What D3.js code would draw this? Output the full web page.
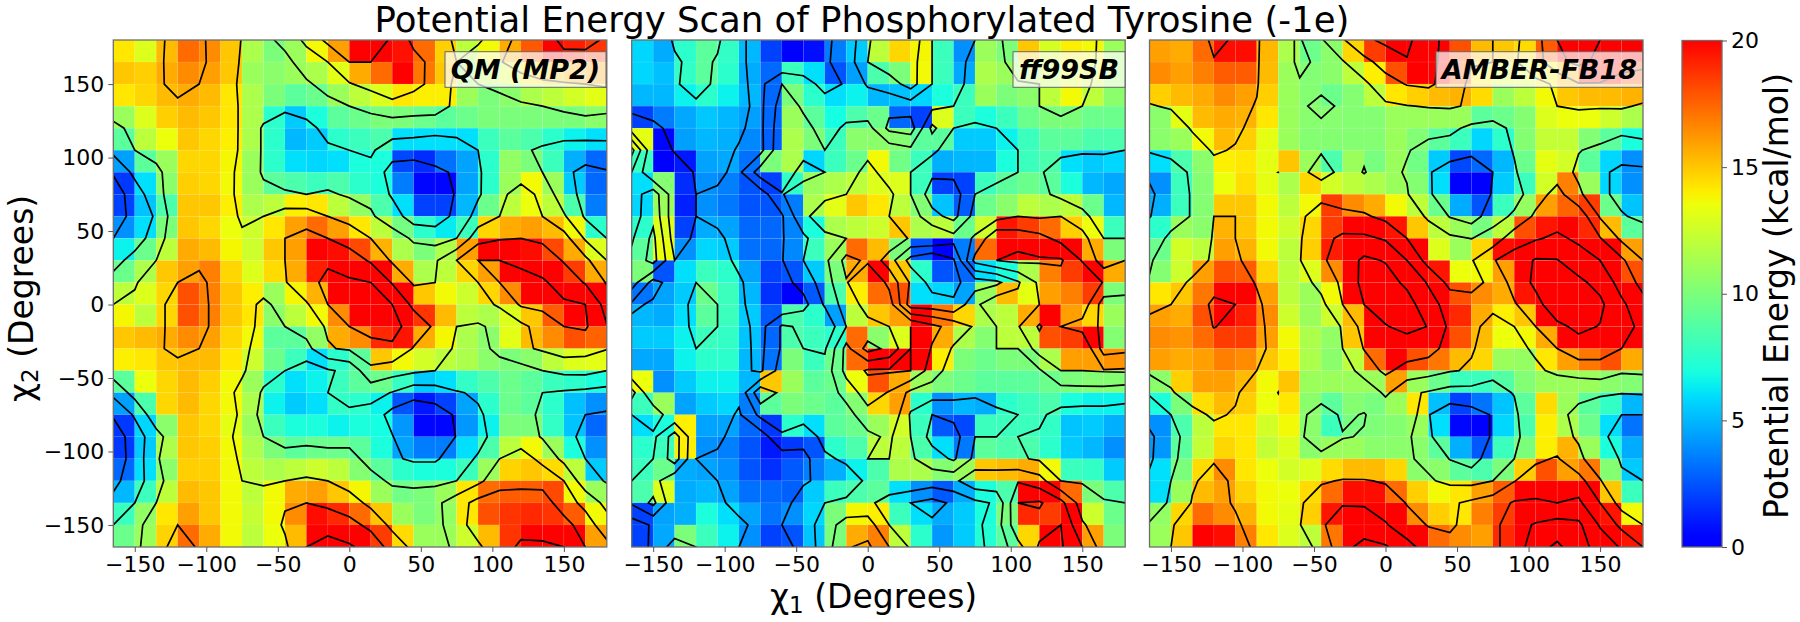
<!DOCTYPE html>
<html><head><meta charset="utf-8">
<script src="https://cdn.jsdelivr.net/npm/d3@7"></script>
<style>html,body{margin:0;padding:0;background:#fff}svg{display:block}text{font-family:"DejaVu Sans",sans-serif;fill:#000}</style>
</head><body><svg id="c" width="1800" height="622"></svg>
<script>
const xTickValues=[-150,-100,-50,0,50,100,150];
const yTickValues=[-150,-100,-50,0,50,100,150];
const cbTickValues=[0,5,10,15,20];
const qmLevels=[4,8,12,16,20,24];
const ffLevels=[4,8,12,16,20,24];
const fbLevels=[5,10,15,20,25,30];
const titleText="Potential Energy Scan of Phosphorylated Tyrosine (-1e)";
const panelNames=["QM (MP2)","ff99SB","AMBER-FB18"];

// cell values; rows from y=165 (top) to y=-165 (bottom), columns from x=-165 to x=165
const qmRows=[
[14.2,13,15.3,17.3,16.5,15,11.5,10,11,13.7,16,20,20,19.6,17.3,14.8,12,13.7,15.7,17.8,20,19.3,18.7],
[15,14.8,15.7,16.5,16,15,11,10.5,11,11.5,13.2,15.7,17.3,20,17,15,11,12,13,14.2,15,15.7,16],
[14.2,14.6,15.3,15.7,15.3,14.2,11.5,10,9,9.5,11,12,13,14.2,14,14,11,10,10.5,11.5,12,12.7,13.2],
[11,13,14.8,15.3,15,14.2,11.5,7.5,5.5,7,9,9.5,10,10,9.5,9,9.5,10,10,10,10,10,10.5],
[9,12,13.5,15,14.6,14,11.5,7.5,5,5.5,7.5,8,8.5,6,6,6,6,8,9,8.5,7.5,6.5,6],
[4.4,9,11,14.6,14.6,13.8,11,7.5,6,5.8,6,7,7,2.2,1.5,3.2,4.5,7.5,10.7,10,8,4.8,3],
[1.8,6,10.5,14.8,14.6,13.7,11,9,8.5,8,8.5,7.5,7,3.5,0.5,0.5,4.5,7.5,11,13.7,11,5.5,3],
[2,5.3,8.5,15,15,14,11.5,12,14,14.2,12,10.7,8.5,6,2,2,5,9.5,12,13.5,12,8.5,3.5],
[4,6,10,15,14.6,13.5,12.5,14.2,16,17.3,16,14.2,12,9.8,7.5,6.3,8,14.6,15.7,16,15.3,13.7,7.5],
[6.5,9.5,12,15.7,15.3,13.8,12.5,15,16,20,19.7,18.2,15.5,11.5,10,11.5,16,20,20,19.7,18.2,15.7,13],
[9.5,11.5,15,16,16.8,14.6,13,14.5,15.7,19.3,20.5,20.5,20,15.7,11.5,12,14.6,16,20,20.5,20.5,18.5,15.7],
[12,13,14.6,18,16.8,15,14,11,13.8,15.5,20,21,21,20,15,13.7,12.5,14.6,16.5,20.5,21,20.5,20],
[13.8,12,14.6,18,16.8,15,14.2,10.5,12,13.7,16.5,20,21,21,18.7,15.3,12,11.5,13,15,17.7,20,20.5],
[15,15.3,15.7,16.5,16,14.6,13.7,9,9,10.7,15.7,16.5,19,19.5,15.7,13.8,11.5,10.5,13.2,15.3,16.5,18,17.5],
[14,14.2,15,15.3,15.3,14.2,12.5,9.5,8,6,7.5,9,15,13.7,12.7,12,11.5,10.5,10,10.5,12,13,13.2],
[9,13.5,14.6,15.3,14.8,13.7,11,7.5,6,6.5,8,9,9.5,7.8,5.5,6,7.7,8.5,9.5,9,8,7.5,7],
[4.4,8.5,14.6,15.3,14.6,13.7,11.5,6.5,5.5,6,7.7,7.5,6.5,2.5,1,2,4.5,7.5,9.5,9,7.5,5.2,4],
[1.8,5.8,10.5,15,14.6,13.3,11,8,7,7,6.5,7,6.8,4.2,0.5,0.5,4.2,6.5,10,10,7.7,5.3,3],
[1.8,5.5,11.5,15,14.8,13.7,11.5,10,9,9.5,9.5,9,7,4.5,3.5,3.5,6,8.5,12,13.7,11,7,4],
[3,6,10.5,14.8,14.8,13.7,12,11.5,12,12.5,12,10.3,9,7.5,7,7,8,11,14.7,15,14.5,12,5.5],
[5,8,12,15.3,15,13.7,12,13.7,15.7,16,15,13.8,11,9.7,10,11,14.2,17.3,17.7,17.7,18.2,13.7,11],
[8,10.7,14.2,16,15,13.7,12.3,13.7,16.5,19.7,19,17.3,15,11,10,10.7,14.2,18,18.7,19,18.7,17.7,13.7],
[9.5,11,14.7,17.3,15.7,13.7,12,13.5,15.3,20,21,20.5,18.5,14.5,11,11,12.5,15.3,18.7,20.5,20.5,20,16]];
const qmTop=[12,13.5,15,17.5,17,13.7,11.9,11,13,17,21,22,22,19.5,15,13.5,11.5,11.5,14,17.5,19,20.5,21,19.5];
const qmRight=[20,16.5,13,10,6.5,3.7,3,3.4,4,8,11.7,14.5,16.2,16.2,12,6.5,3.5,3,3.3,3.7,6.7,10,13];

const ffRows=[
[5.8,4.7,7.5,9,7.7,5,2,0.2,0.7,3.5,5.5,12,14.6,13.8,8,4,11,10,15,12.8,14,13.7,11],
[5.8,5.2,7.7,9,7.5,4.7,3,8,6,2.5,4.4,8.5,10,13.7,8,4.6,11.5,11,11.5,12,13,12.7,11],
[5,5,6.5,7.5,6.5,5,3,10,7.5,6,6.5,5,5.2,5.8,7,8,11,10,10.5,12,13.7,12,10.5],
[2,3.5,4.6,5.4,5,4.4,3,11,9,6.8,8.5,9.5,3,2,13,8,7,8,9.5,10,10,9.5,9.5],
[13.3,0.5,4.4,5,4.8,3.8,2.8,11.5,10,8,10.5,10.5,10.3,9,9,5.5,5.5,6.5,8,9,9,8.5,8.5],
[8,0,1,4.5,4.6,3.2,10,11.5,5.8,8,9.5,13.7,9.7,8,4.8,5,5,7,8,8.5,6,5.5,5.8],
[6,10.3,1.5,4,3.6,2.5,2,7.7,11,11.5,12,13,13,8,2,2,8,9,9.5,9,7,5,4.6],
[5.8,11,1.2,4,3.4,2.5,2.5,3.5,11.5,13.2,15,14.2,12,10.2,5.3,2.7,9.5,10.5,12,11.5,12,9.5,5],
[7.5,13,2,4.7,4.5,3,3,3.7,7,11.5,12,12.5,15,11.5,12,9.5,12.5,19.5,18.5,17.3,14.8,13.5,8],
[9,13.5,4,5.8,5.5,3.2,3,3.8,8,11,17.3,15.3,10,2.5,0,3.5,17.3,20,21,20.5,20.5,15.7,10],
[10,2.5,6,8,7.5,4.5,2,2.5,5.5,10,15.7,20,15,7.5,2.5,3,6,7,11.5,16.8,18.5,20,15.7],
[3.3,4.5,5.5,9.5,8,5,1.6,0.3,2.6,8.5,14,17.3,18,6,5.8,4.5,11,15.3,13.3,16,16.8,18.5,10],
[5,4.7,6,9,8,5.5,2.6,8.5,7.5,4.4,12,15,16,20,17,14.6,11.5,12,15.7,20.5,16,14.6,11],
[5.5,5.5,6.5,8,7.7,5.3,3,8.5,8,7.5,17.3,10.5,13,20,15.7,11.5,10.3,12,12,18,18.5,20,10.3],
[4.6,4.6,6.5,7.5,7.5,5,3.3,10,8,9.5,17.3,20.5,20.5,20,14,10,9.5,10,10,11.5,16,16,16.3],
[13.5,4,5.5,6.5,6.5,5,15,11,9,9.5,13.5,18,15.7,11,10,9.5,9,9,9,9.5,10,10.3,10.3],
[8,11,4.5,5.5,5.8,3.5,9,10,9.5,9,10.3,14.6,16,7.5,4,5,4.7,7.5,8,8.5,7,6.5,6.5],
[6,7,14,4.5,4.5,3,1.8,7.5,6,9,9.5,11,12.7,8,2.6,2.2,8,8,8,7.7,5.3,5.5,4.8],
[7.5,8,14,4,3.6,2.5,1,1.8,2.5,7.5,8.5,12,12,8.5,6,3.4,9,8.5,8.5,7.5,5.5,5,4],
[8,9.5,4.7,4.5,4,2.5,1.6,2.6,3.6,4.8,6.5,8.5,11.5,11.5,10.3,11,15,15.3,15.7,13.7,8,7.7,5.5],
[8.5,13,4.7,5,4.5,3.2,3,2.8,5.5,8,8.5,9,6,4,2.6,4.7,7,8.5,20,20.5,17.3,10,8.5],
[2,4.5,4.8,7,6,4.5,3.3,4,5.8,10,13.8,14,8,6,4.7,5.5,7,10,19,18.5,20,12.5,9.5],
[2,4.6,10,8,6.5,4,2,2.5,5.3,10,15.7,16.8,12,7.5,4.2,5.5,7.2,9,14.6,20.5,20.5,16,10]];
const ffTop=[5.8,5,8.5,9,8.5,5,2,0.2,1,3.5,5,11.5,15,15,8,4,8,10.5,16,14,15,15,10.5,11];
const ffRight=[9,12,9,9,8,5,5,5.5,8,12,16,9,11,11,16.5,9.5,6.5,5,4,6,8,9,10];

const fbRows=[
[16,15.7,17.3,19.7,19.7,15.4,11.5,9.5,10.5,14.6,18.5,22,24.7,21.5,18,15.3,15,14.5,17.7,24,26,24,22],
[16.5,16,16.8,17.7,17.7,15.3,11,10.2,10.5,12,14,18,20.3,21,17.7,14,13,13,14,15.5,19.7,19.7,18],
[14.8,15.3,15.7,16.5,16,14.8,11,10.3,9.5,10.3,12,14.2,14.8,15.3,15.5,14.5,11,12,13.7,15,15.3,15.3,15.5],
[10.5,13.3,15.3,15.7,15.5,14.2,11,10.4,10.4,10.3,10.3,11,11,11,11,9,9.5,10.3,13,13.5,13.5,12.5,11.5],
[10.5,11,13.7,15.3,14.8,13.3,11,10.3,10.3,10.3,10.3,11,10.2,9,8,5.8,7.5,10.3,12.2,12.2,10.2,9,7],
[6,8.5,10.5,14,14.2,13.3,15.02,11,8.5,11,9.9,11,9.7,5.5,2.2,3,5,9.5,13.3,12.7,9,5.8,4],
[4,8,10.3,13.5,14.4,13.3,11.5,14.6,12.7,12,11.5,11,10.3,6,0.3,0.3,5.5,8,12.7,16.8,11,5.8,4],
[4.8,8,10.3,15,15,13.7,12,13.7,18.5,16.5,15.7,13.7,12,9.5,4.7,2.5,8,10.8,16,17.5,18.5,9.5,5.3],
[7.5,11,10.5,15.5,15,13.7,12.5,14.6,18.5,21,21,19.5,15,12,11,9.9,12,18,19.5,21,19,15.3,9],
[9.5,12.7,12,16,15.5,13.7,12,14.8,19.3,22,26,24.7,20,13,11,14.6,19.7,22,25.5,25.2,22.5,20,16],
[10.3,12.5,16,18,17.7,14.6,12,13,16.5,21,26.5,27,24,19.5,13.5,13.7,16,22,26,28,26,23.5,18],
[14.2,15,17,21,20,16,12,11,13.7,20,25,26.5,27,22,18,16.5,15.7,19.5,23.5,28,28,26,21],
[16,15.7,18,20.1,19.3,16.5,12.5,11,12.5,15.3,22,24.8,26,24.9,19,15.7,14,15,20,24,26,24.8,23],
[16.5,16.3,17.3,18.5,18.5,16,13.7,11.5,10.7,15,20.2,22,23,22,18,15.3,13.5,13.7,15.7,20,23,22,20],
[16,15.7,16,16.8,16.5,15,14,11.5,10.5,12,17.3,21,18,17,15.3,14.6,11,10.8,14.2,16,17,18,15.7],
[10.5,14.8,16,16,15.3,13.7,15.03,11,11,11,11,16,11,9.5,8,8,8.7,10.2,11,11,11,10.5,10.2],
[7,10,14.4,15.3,14.8,13.5,14.2,10.5,9,10.3,9.9,11,14.2,5.2,2,3.3,5.3,9,14.5,11,9,7.7,5],
[4,8.5,12,14.2,14.2,12.7,13.7,10.5,8,9.9,10.1,10.3,11,6,0.5,0.3,5.8,8.5,14,11.5,9.5,6,3.3],
[4.2,9,12.2,14.6,14.2,12.2,13,10.5,11,11,10.5,10.5,10.5,9,4.8,2.6,8,10,14,15.5,11,7,4.7],
[6,10,14.5,16.5,14.2,13.5,12.7,13,14.5,15.3,15.3,14.6,10.5,10.5,9,8.5,10,14.8,18,16,17,10.3,5.5],
[6,11,15.3,16,14.7,13.7,13.5,14.5,17.3,19.7,19.7,17.3,14.8,13.7,14.2,16,17.7,20.5,20.5,20,21,15,8],
[10.7,14.6,17.3,16.5,15.5,13.7,13.3,14.8,19.5,22,21.5,20.5,16.5,14.8,14.2,16.8,18.5,23,25.5,27,26,19.5,13.7],
[11,15,20,19.7,16.8,14.2,13,12,17,23,27,25.5,22,17.3,16.5,16,19,22,28,31,27,23,19.5]];
const fbTop=[17,15.5,17,21,19.5,15.5,11.5,9.5,14.5,19.5,24,26,26,22,18,16,15,14,18,25,27,25,23,25];
const fbRight=[21,18,14.5,12,8,4,3.5,4.2,7,10,13.5,16.5,18,17,16,10.5,5,3,3.5,5,8,10,15];

const panelData=[[qmRows,qmTop,qmRight,qmLevels],[ffRows,ffTop,ffRight,ffLevels],[fbRows,fbTop,fbRight,fbLevels]];
const panelLeft=[113.3,631.7,1149.5], panelWidth=493.5, plotTop=40, plotBottom=547;
const labelBoxes=[[445,606],[1013,1125],[1436,1642.7]];

// trimmed jet colormap
const jetR=d3.scaleLinear([0.35,0.66,0.89],[0,1,1]).clamp(true);
const jetG=d3.scaleLinear([0.125,0.375,0.64,0.89],[0,1,1,0]).clamp(true);
const jetB=d3.scaleLinear([0.11,0.34,0.65],[1,1,0]).clamp(true);
const tScale=d3.scaleLinear([0,20],[0.11,0.89]).clamp(true);
const cmap=v=>{const t=tScale(v);return d3.rgb(255*jetR(t),255*jetG(t),255*jetB(t)).formatRgb();};

const svg=d3.select("#c");
const defs=svg.append("defs");
const edges=[-165,-150,-135,-120,-105,-90,-75,-60,-45,-30,-15,0,15,30,45,60,75,90,105,120,135,150,165,180];

panelData.forEach(([rows,top,right,levels],p)=>{
  const x=d3.scaleLinear([-165,180],[panelLeft[p],panelLeft[p]+panelWidth]);
  const y=d3.scaleLinear([-165,180],[plotBottom,plotTop]);
  const g=svg.append("g");
  defs.append("clipPath").attr("id","clip"+p).append("rect")
    .attr("x",x(-165)).attr("y",y(180)).attr("width",panelWidth).attr("height",plotBottom-plotTop);
  rows.forEach((row,r)=>row.forEach((v,c)=>{
    const x0=x(edges[c]),x1=x(edges[c+1]),y1=y(edges[22-r]),y0=y(edges[23-r]);
    g.append("rect").attr("x",x0).attr("y",y0).attr("width",x1-x0).attr("height",y1-y0)
      .attr("fill",cmap(v)).attr("stroke",d3.color("white").copy({opacity:0.07})).attr("stroke-width",0.8);
  }));
  const nodes=[top].concat(rows.map((row,r)=>row.concat([right[r]])));
  const padRows=[nodes[0]].concat(nodes,[nodes[nodes.length-1]]).map(n=>[n[0]].concat(n,[n[n.length-1]]));
  const w=padRows[0].length,h=padRows.length;
  const cs=d3.contours().size([w,h]).thresholds(levels)(padRows.flat());
  const px=d3.scaleLinear([1.5,24.5],[x(-165),x(180)]);
  const py=d3.scaleLinear([1.5,24.5],[y(180),y(-165)]);
  const tf=d3.geoTransform({point(a,b){this.stream.point(px(a),py(b));}});
  const path=d3.geoPath(tf);
  svg.append("g").attr("clip-path",`url(#clip${p})`).selectAll("path").data(cs).join("path")
    .attr("d",path).attr("fill","none").attr("stroke","#000").attr("stroke-width",1.7).attr("stroke-linejoin","miter");
  svg.append("rect").attr("x",x(-165)).attr("y",y(180)).attr("width",panelWidth).attr("height",plotBottom-plotTop)
    .attr("fill","none").attr("stroke","#6e6e6e").attr("stroke-width",1.3);
  const ax=svg.append("g").attr("transform",`translate(0,${plotBottom})`).call(d3.axisBottom(x).tickValues(xTickValues).tickSize(5).tickPadding(4));
  const axes=[ax];
  if(p===0){axes.push(svg.append("g").attr("transform",`translate(${panelLeft[0]},0)`).call(d3.axisLeft(y).tickValues(yTickValues).tickSize(5).tickPadding(4)));}
  axes.forEach(a=>{a.select(".domain").remove();a.selectAll("line").attr("stroke","#555").attr("stroke-width",1);a.selectAll("text").attr("font-size",22).attr("font-family","DejaVu Sans");});
  const [bx0,bx1]=labelBoxes[p];
  svg.append("rect").attr("x",bx0).attr("y",51.7).attr("width",bx1-bx0).attr("height",35.6)
    .attr("fill","#fff").attr("fill-opacity",0.72).attr("stroke","#666").attr("stroke-width",1);
  svg.append("text").attr("x",(bx0+bx1)/2).attr("y",79).attr("text-anchor","middle")
    .attr("font-size",27).attr("font-weight","bold").attr("font-style","italic").text(panelNames[p]);
});

const cbX0=1682,cbX1=1722,cbTop=40.5,cbBottom=547;
const cbY=d3.scaleLinear([0,20],[cbBottom,cbTop]);
const grad=defs.append("linearGradient").attr("id","cbg").attr("x1",0).attr("x2",0).attr("y1",1).attr("y2",0);
d3.range(0,20.01,0.5).forEach(v=>grad.append("stop").attr("offset",v/20).attr("stop-color",cmap(v)));
svg.append("rect").attr("x",cbX0).attr("y",cbTop).attr("width",cbX1-cbX0).attr("height",cbBottom-cbTop).attr("fill","url(#cbg)").attr("stroke","#6e6e6e").attr("stroke-width",1.3);
const cbAxis=svg.append("g").attr("transform",`translate(${cbX1},0)`).call(d3.axisRight(cbY).tickValues(cbTickValues).tickSize(5).tickPadding(4));
cbAxis.select(".domain").remove();
cbAxis.selectAll("line").attr("stroke","#555");
cbAxis.selectAll("text").attr("font-size",22).attr("font-family","DejaVu Sans");

svg.append("text").attr("transform","translate(1788,296) rotate(-90)").attr("text-anchor","middle").attr("font-size",33).text("Potential Energy (kcal/mol)");
svg.append("text").attr("x",862).attr("y",32).attr("text-anchor","middle").attr("font-size",35.5).text(titleText);
function chiLabel(sel,sub){
  sel.attr("font-size",33).attr("text-anchor","start");
  sel.append("tspan").text("χ");
  sel.append("tspan").attr("font-size",23).attr("dy",5).text(sub);
  sel.append("tspan").attr("dy",-5).text(" (Degrees)");
}
svg.append("text").attr("x",770).attr("y",608).call(chiLabel,"1");
svg.append("text").attr("transform","translate(33,402) rotate(-90)").call(chiLabel,"2");
</script></body></html>
